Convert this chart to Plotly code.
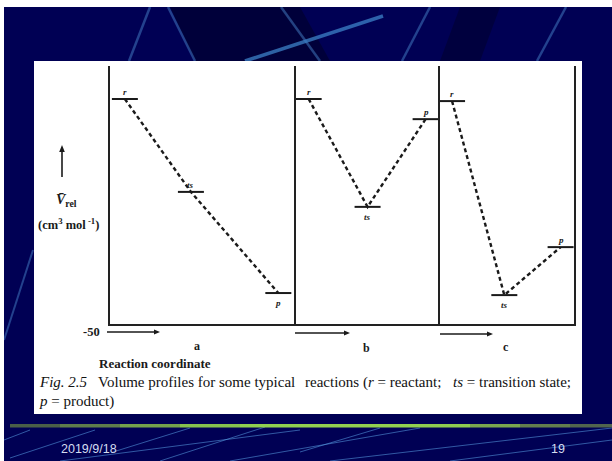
import plotly.graph_objects as go

W, H = 612, 461

# ---------------- data ----------------
panel_names = ["a", "b", "c"]
state_labels = ["r", "ts", "p"]
# position of each state along the reaction coordinate (fraction of panel width)
pos_a = [0.08, 0.435, 0.905]
pos_b = [0.088, 0.497, 0.90]
pos_c = [0.09, 0.48, 0.90]
# relative partial molar volume (cm3 mol-1)
vol_a = [-6.4, -24.4, -44.0]
vol_b = [-6.4, -27.3, -10.3]
vol_c = [-6.8, -44.4, -35.1]
y_tick_vals = [-50]
y_tick_text = ["-50"]

positions = [pos_a, pos_b, pos_c]
volumes = [vol_a, vol_b, vol_c]

# ---------------- layout helpers ----------------
def px(x):
    return x / W

def py(y):
    return 1 - y / H

x_domains = [[px(110), px(296)], [px(296), px(440)], [px(440), px(574)]]
y_domain = [py(324), py(66)]
label_side = [["above", "above", "below"],
              ["above", "below", "above"],
              ["above", "below", "above"]]
letter_pos = [(197, 346), (366, 348), (506, 347)]
arrow_pos = [(107, 160, 332), (295, 350, 333), (440, 493, 334)]

SERIF = "Liberation Serif"
INK = "#1a1a1a"

fig = go.Figure()
shapes = []

def text(x, y, t, size, xanchor="center", family=SERIF, color=INK):
    fig.add_annotation(x=px(x), y=py(y), xref="paper", yref="paper", text=t,
                       showarrow=False, xanchor=xanchor, yanchor="middle",
                       font=dict(family=family, size=size, color=color))

def arrow(x0, y0, x1, y1, width=1.4, head=6, half=2.6):
    dx, dy = x1 - x0, y1 - y0
    L = (dx * dx + dy * dy) ** 0.5
    ux, uy = dx / L, dy / L
    bx, by = x1 - ux * head, y1 - uy * head
    shapes.append(dict(type="line", xref="paper", yref="paper",
                       x0=px(x0), y0=py(y0), x1=px(bx), y1=py(by),
                       line=dict(color=INK, width=width)))
    nx, ny = -uy, ux
    p1 = (bx + nx * half, by + ny * half)
    p2 = (bx - nx * half, by - ny * half)
    shapes.append(dict(type="path", xref="paper", yref="paper",
                       path=f"M {px(x1)},{py(y1)} L {px(p1[0])},{py(p1[1])} L {px(p2[0])},{py(p2[1])} Z",
                       fillcolor=INK, line=dict(width=0)))

for i, (xs, ys) in enumerate(zip(positions, volumes)):
    xa = "x" if i == 0 else f"x{i+1}"
    ya = "y" if i == 0 else f"y{i+1}"
    dom = x_domains[i]
    hw = 13.0 / ((dom[1] - dom[0]) * W)
    bx, by = [], []
    for x, y in zip(xs, ys):
        bx += [x - hw, x + hw, None]
        by += [y, y, None]
    fig.add_trace(go.Scatter(x=bx, y=by, mode="lines", xaxis=xa, yaxis=ya,
                             line=dict(color=INK, width=2), hoverinfo="skip",
                             showlegend=False))
    fig.add_trace(go.Scatter(x=xs, y=ys, mode="lines", xaxis=xa, yaxis=ya,
                             line=dict(color=INK, width=2.4, dash="4px,3px"),
                             hoverinfo="skip", showlegend=False))
    for j, (x, y) in enumerate(zip(xs, ys)):
        above = label_side[i][j] == "above"
        fig.add_annotation(x=x, y=y, xref=xa, yref=ya, text=f"<b><i>{state_labels[j]}</i></b>",
                           showarrow=False, xanchor="center", yanchor="middle",
                           yshift=7 if above else -10,
                           font=dict(family=SERIF, size=9, color=INK))

# axes
common_x = dict(range=[0, 1], showgrid=False, zeroline=False, showticklabels=False,
                ticks="", showline=True, linecolor="#222", linewidth=2, fixedrange=True)
common_y = dict(range=[-50, 0], domain=y_domain, showgrid=False, zeroline=False,
                showticklabels=False, ticks="", showline=True, linecolor="#222",
                linewidth=2, fixedrange=True)
fig.update_layout(
    xaxis=dict(domain=x_domains[0], anchor="y", **common_x),
    xaxis2=dict(domain=x_domains[1], anchor="y2", **common_x),
    xaxis3=dict(domain=x_domains[2], anchor="y3", **common_x),
    yaxis=dict(anchor="x", **common_y),
    yaxis2=dict(anchor="x2", **common_y),
    yaxis3=dict(anchor="x3", mirror=True, **common_y),
)

# y tick label (-50)
for v, t in zip(y_tick_vals, y_tick_text):
    fig.add_annotation(x=px(102), y=v, xref="paper", yref="y", text=f"<b>{t}</b>",
                       showarrow=False, xanchor="right", yanchor="middle", yshift=-8,
                       font=dict(family=SERIF, size=12.5, color=INK))

# panel letters and reaction coordinate arrows
for name, (lx, ly), (a0, a1, ay) in zip(panel_names, letter_pos, arrow_pos):
    text(lx, ly, f"<b>{name}</b>", 12)
    arrow(a0, ay, a1, ay)

text(155, 363, "<b>Reaction coordinate</b>", 13)

# y-axis label
arrow(62, 177, 62, 145, width=1.6, head=7, half=2.8)
text(66, 200, "<b><i>V\u0304</i></b><sub><b>rel</b></sub>", 14)
text(68, 224, "<b>(cm<sup>3</sup> mol<sup> -1</sup>)</b>", 12.5)

# caption (justified first line: split into chunks)
text(37, 382, "<i>Fig. 2.5</i>\u00a0\u00a0 Volume profiles for some typical", 15, xanchor="left", color="#111")
text(303, 382, "reactions (<i>r</i> = reactant;", 15, xanchor="left", color="#111")
text(573, 382, "<i>ts</i> = transition state;", 15, xanchor="right", color="#111")
text(37, 401, "<i>p</i> = product)", 15, xanchor="left", color="#111")

# footer
text(59, 449, "2019/9/18", 12.5, xanchor="left", family="Liberation Sans", color="#d4dcf0")
text(567, 449, "19", 12.5, xanchor="right", family="Liberation Sans", color="#d4dcf0")

# ---------------- slide decoration ----------------
deco = []
deco.append(dict(type="path", xref="paper", yref="paper", layer="below",
                 path=f"M {px(170)},{py(7)} L {px(300)},{py(7)} L {px(330)},{py(61)} L {px(195)},{py(61)} Z",
                 fillcolor="#00003a", line=dict(width=0)))
deco.append(dict(type="path", xref="paper", yref="paper", layer="below",
                 path=f"M {px(460)},{py(7)} L {px(500)},{py(7)} L {px(480)},{py(61)} L {px(440)},{py(61)} Z",
                 fillcolor="#00003e", line=dict(width=0)))
stripe = "rgba(70,130,200,0.5)"
for (x0, y0, x1, y1, w) in [(150, 7, 129, 61, 2.5), (168, 7, 195, 61, 2.5), (281, 7, 320, 61, 2.5),
                             (430, 7, 402, 61, 2.5), (566, 7, 537, 61, 2.5), (33, 250, 4, 340, 2)]:
    deco.append(dict(type="line", xref="paper", yref="paper", layer="below",
                     x0=px(x0), y0=py(y0), x1=px(x1), y1=py(y1),
                     line=dict(color=stripe, width=w)))
deco.append(dict(type="line", xref="paper", yref="paper", layer="below",
                 x0=px(383), y0=py(16), x1=px(245), y1=py(61),
                 line=dict(color="rgba(60,130,200,0.75)", width=3.5)))
for (x0, y0, x1, y1) in [(10, 458, 95, 430), (60, 461, 300, 430), (113, 452, 190, 428),
                         (160, 461, 265, 427), (230, 461, 420, 428), (300, 452, 380, 428),
                         (330, 461, 612, 428), (450, 461, 612, 440), (4, 440, 30, 430)]:
    deco.append(dict(type="line", xref="paper", yref="paper", layer="below",
                     x0=px(x0), y0=py(y0), x1=px(x1), y1=py(y1),
                     line=dict(color="rgba(90,160,230,0.55)", width=1)))
bar_stops = [(10, "#4a5f48"), (60, "#5e7d4c"), (120, "#74a24c"), (180, "#86c24e"),
             (240, "#90d050"), (300, "#92d150"), (360, "#92d150"), (420, "#8fcc50"),
             (470, "#7aa64e"), (520, "#627e4e"), (570, "#51654e"), (612, "#465650")]
for k in range(len(bar_stops) - 1):
    deco.append(dict(type="rect", xref="paper", yref="paper", layer="below",
                     x0=px(bar_stops[k][0]), x1=px(bar_stops[k + 1][0]),
                     y0=py(427.5), y1=py(424), fillcolor=bar_stops[k][1], line=dict(width=0)))
deco.append(dict(type="rect", xref="paper", yref="paper", layer="below",
                 x0=0, x1=1, y0=py(7), y1=1, fillcolor="white", line=dict(width=0)))
deco.append(dict(type="rect", xref="paper", yref="paper", layer="below",
                 x0=0, x1=px(4), y0=0, y1=1, fillcolor="white", line=dict(width=0)))
deco.append(dict(type="rect", xref="paper", yref="paper", layer="below",
                 x0=px(34), x1=px(582), y0=py(414), y1=py(61),
                 fillcolor="white", line=dict(width=0)))

fig.update_layout(
    width=W, height=H, margin=dict(l=0, r=0, t=0, b=0),
    paper_bgcolor="#000054", plot_bgcolor="rgba(0,0,0,0)",
    shapes=deco + shapes, showlegend=False,
)

fig.write_html("out.html", config={"displayModeBar": False},
               post_script="document.body.style.margin='0';document.body.style.overflow='hidden';")
